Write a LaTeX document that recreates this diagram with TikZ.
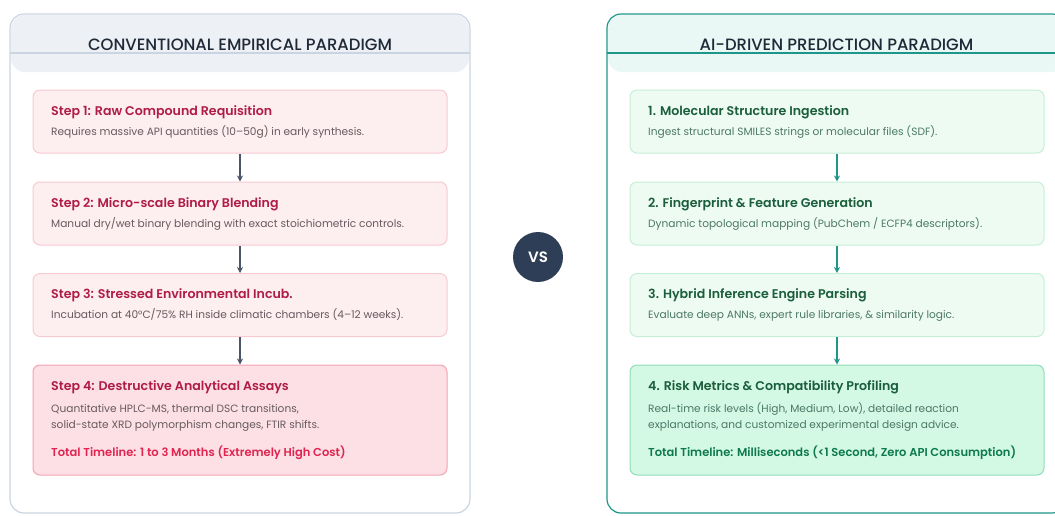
\documentclass[tikz,border=0pt]{standalone}
\usepackage{fontspec}
\setmainfont{Poppins}
\newfontfamily\headfont{Poppins Medium}
\newfontfamily\semifont{Poppins SemiBold}
\usetikzlibrary{arrows.meta}

\definecolor{edgeL}{HTML}{CBD5E1}
\definecolor{headL}{HTML}{EDF1F6}
\definecolor{boxL}{HTML}{FDEEF0}
\definecolor{boxLline}{HTML}{F8CAD2}
\definecolor{hotL}{HTML}{FCE0E5}
\definecolor{hotLline}{HTML}{F4A3B1}
\definecolor{ttlLc}{HTML}{B01C48}
\definecolor{txtLc}{HTML}{665A60}
\definecolor{sumLc}{HTML}{E0244F}
\definecolor{arrLc}{HTML}{4A5568}
\definecolor{edgeR}{HTML}{1F968A}
\definecolor{headR}{HTML}{E9F8F5}
\definecolor{boxR}{HTML}{EEFBF3}
\definecolor{boxRline}{HTML}{C6EFD7}
\definecolor{hotR}{HTML}{D3F8E4}
\definecolor{hotRline}{HTML}{8FDFB9}
\definecolor{ttlRc}{HTML}{1B5E3B}
\definecolor{txtRc}{HTML}{4C7866}
\definecolor{sumRc}{HTML}{0D7A4D}
\definecolor{headc}{HTML}{1F2937}
\definecolor{vsfill}{HTML}{2D3E56}

\tikzset{
  stepL/.style={draw=boxLline, fill=boxL, line width=1pt, rounded corners=7pt,
    minimum width=414pt, minimum height=63pt},
  stepR/.style={draw=boxRline, fill=boxR, line width=1pt, rounded corners=7pt,
    minimum width=414pt, minimum height=63pt},
  ttlL/.style={anchor=base west, inner sep=0pt, text=ttlLc, font=\fontsize{12.6}{14}\semifont},
  ttlR/.style={anchor=base west, inner sep=0pt, text=ttlRc, font=\fontsize{12.6}{14}\semifont},
  sumL/.style={ttlL, text=sumLc, font=\fontsize{11.5}{13}\semifont},
  sumR/.style={ttlR, text=sumRc, font=\fontsize{11.5}{13}\semifont},
  txtL/.style={anchor=base west, inner sep=0pt, text=txtLc, font=\fontsize{10.6}{12}\selectfont},
  txtR/.style={anchor=base west, inner sep=0pt, text=txtRc, font=\fontsize{10.6}{12}\selectfont},
  head/.style={anchor=base, inner sep=0pt, text=headc, font=\fontsize{16.4}{18}\headfont},
  arrL/.style={draw=arrLc, line width=1.3pt, -{Stealth[length=6pt,width=6pt]}},
  arrR/.style={draw=edgeR, line width=1.3pt, -{Stealth[length=6pt,width=6pt]}}
}

\begin{document}
\begin{tikzpicture}[x=1pt,y=-1pt]
  \clip (0,0) rectangle (1055,515);

  % conventional column
  \fill[white, rounded corners=14pt] (10,14) rectangle (470,513);
  \fill[headL, rounded corners=14pt] (11,15) rectangle (469,72);
  \draw[edgeL, line width=1.6pt] (10,53) -- (470,53);
  \draw[edgeL, line width=1.2pt, rounded corners=14pt] (10,14) rectangle (470,513);
  \node[head] (hl) at (240,50) {CONVENTIONAL EMPIRICAL PARADIGM};

  \node[stepL] (l1) at (240,121.5) {};
  \node[stepL] (l2) at (240,213.5) {};
  \node[stepL] (l3) at (240,305) {};
  \node[stepL, draw=hotLline, fill=hotL, minimum height=110pt] (l4) at (240,420) {};

  \node[ttlL] (l1t) at (51,115) {Step 1: Raw Compound Requisition};
  \node[txtL] (l1d) at (51,135) {Requires massive API quantities (10–50g) in early synthesis.};
  \node[ttlL] (l2t) at (51,207) {Step 2: Micro-scale Binary Blending};
  \node[txtL] (l2d) at (51,227) {Manual dry/wet binary blending with exact stoichiometric controls.};
  \node[ttlL] (l3t) at (51,298) {Step 3: Stressed Environmental Incub.};
  \node[txtL] (l3d) at (51,318) {Incubation at 40°C/75\% RH inside climatic chambers (4–12 weeks).};
  \node[ttlL] (l4t) at (51,390.5) {Step 4: Destructive Analytical Assays};
  \node[txtL] (l4d) at (51,412) {Quantitative HPLC-MS, thermal DSC transitions,};
  \node[txtL] (l4e) at (51,428) {solid-state XRD polymorphism changes, FTIR shifts.};
  \node[sumL] (l4s) at (51,456) {Total Timeline: 1 to 3 Months (Extremely High Cost)};

  \begin{scope}[arrL]
    \draw (l1) -- (l2);
    \draw (l2) -- (l3);
    \draw (l3) -- (l4);
  \end{scope}

  % versus badge
  \node[circle, fill=vsfill, minimum size=50pt, inner sep=0pt, text=white,
    font=\fontsize{15}{17}\semifont] (vs) at (538,257) {VS};

  % prediction column
  \fill[white, rounded corners=14pt] (607,14) rectangle (1066,513);
  \fill[headR, rounded corners=14pt] (608,15) rectangle (1065,72);
  \draw[edgeR, line width=1.6pt] (607,53) -- (1066,53);
  \draw[edgeR, line width=1.2pt, rounded corners=14pt] (607,14) rectangle (1066,513);
  \node[head] (hr) at (836.5,50) {AI-DRIVEN PREDICTION PARADIGM};

  \node[stepR] (r1) at (837,121.5) {};
  \node[stepR] (r2) at (837,213.5) {};
  \node[stepR] (r3) at (837,305) {};
  \node[stepR, draw=hotRline, fill=hotR, minimum height=110pt] (r4) at (837,420) {};

  \node[ttlR] (r1t) at (648,115) {1. Molecular Structure Ingestion};
  \node[txtR] (r1d) at (648,135) {Ingest structural SMILES strings or molecular files (SDF).};
  \node[ttlR] (r2t) at (648,207) {2. Fingerprint \& Feature Generation};
  \node[txtR] (r2d) at (648,227) {Dynamic topological mapping (PubChem / ECFP4 descriptors).};
  \node[ttlR] (r3t) at (648,298) {3. Hybrid Inference Engine Parsing};
  \node[txtR] (r3d) at (648,318) {Evaluate deep ANNs, expert rule libraries, \& similarity logic.};
  \node[ttlR] (r4t) at (648,390.5) {4. Risk Metrics \& Compatibility Profiling};
  \node[txtR] (r4d) at (648,412) {Real-time risk levels (High, Medium, Low), detailed reaction};
  \node[txtR] (r4e) at (648,428) {explanations, and customized experimental design advice.};
  \node[sumR] (r4s) at (648,456) {Total Timeline: Milliseconds (<1 Second, Zero API Consumption)};

  \begin{scope}[arrR]
    \draw (r1) -- (r2);
    \draw (r2) -- (r3);
    \draw (r3) -- (r4);
  \end{scope}
\end{tikzpicture}
\end{document}
